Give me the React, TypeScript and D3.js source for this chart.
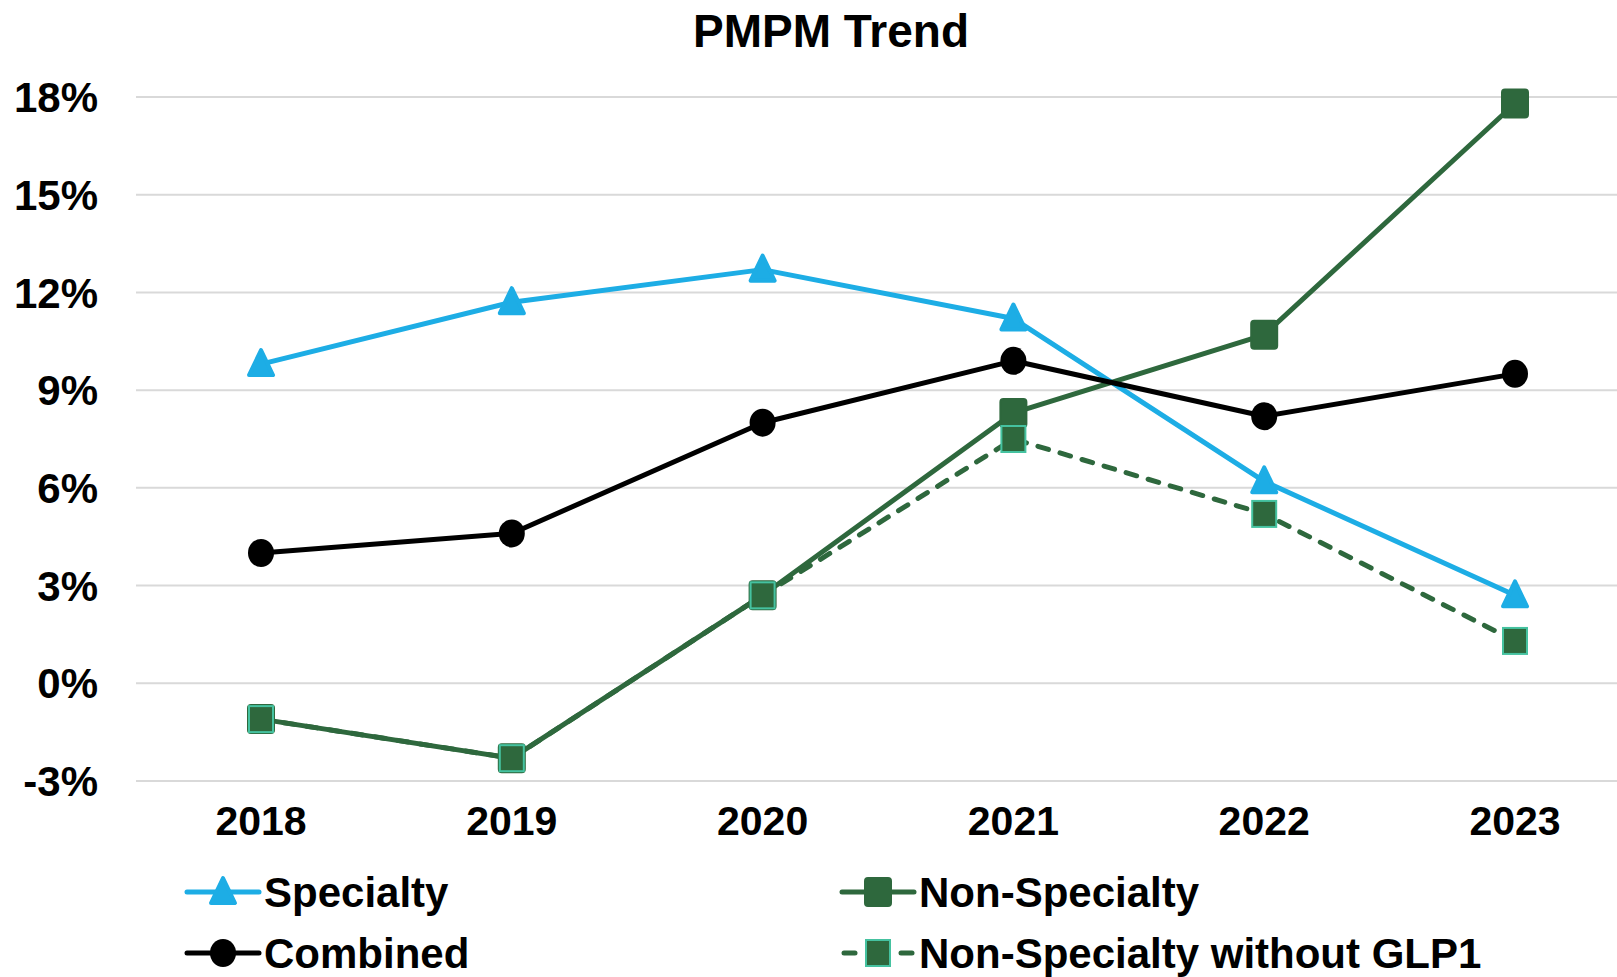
import React from 'react';
import * as d3 from 'd3';

const years = ['2018', '2019', '2020', '2021', '2022', '2023'];
const specialty = [9.8, 11.7, 12.7, 11.2, 6.2, 2.7];
const nonSpecialty = [-1.1, -2.3, 2.7, 8.3, 10.7, 17.8];
const combined = [4.0, 4.6, 8.0, 9.9, 8.2, 9.5];
const nonSpecNoGlp1 = [-1.1, -2.3, 2.7, 7.5, 5.2, 1.3];
const yTicks = [-3, 0, 3, 6, 9, 12, 15, 18];

const W = 1617;
const H = 977;
const FONT = '"Liberation Sans", Arial, sans-serif';
const BLUE = '#1DADE5';
const GREEN = '#2E683D';
const TEAL = '#45C2A0';

const x = d3.scalePoint<string>().domain(years).range([261, 1515]);
const y = d3.scaleLinear().domain([-3, 18]).range([781, 97]);

const line = d3.line<number>()
  .x((d, i) => x(years[i]) as number)
  .y(d => y(d));

type Marker = 'triangle' | 'square' | 'circle';

function MarkerShape({ kind, cx, cy, fill, stroke }: { kind: Marker; cx: number; cy: number; fill: string; stroke?: string }) {
  const s = 24;
  if (kind === 'circle') {
    return <ellipse cx={cx} cy={cy} rx={13} ry={14} fill={fill} />;
  }
  if (kind === 'square') {
    if (stroke) {
      return <rect x={cx - s / 2} y={cy - s / 2 - 1} width={s} height={s + 2} fill={fill} stroke={stroke} strokeWidth={2} />;
    }
    return <rect x={cx - s / 2 - 1} y={cy - s / 2 - 2} width={s + 2} height={s + 4} fill={fill} stroke={fill} strokeWidth={2} strokeLinejoin="round" rx={3} />;
  }
  const h = 24;
  const p = `M${cx},${cy - h / 2 - 2} L${cx + 12},${cy + h / 2 - 1} L${cx - 12},${cy + h / 2 - 1} Z`;
  return <path d={p} fill={fill} stroke={fill} strokeWidth={4} strokeLinejoin="round" />;
}

const series = [
  { name: 'Specialty', values: specialty, color: BLUE, marker: 'triangle' as Marker, dash: undefined as string | undefined, border: undefined as string | undefined },
  { name: 'Non-Specialty', values: nonSpecialty, color: GREEN, marker: 'square' as Marker, dash: undefined, border: undefined },
  { name: 'Combined', values: combined, color: '#000000', marker: 'circle' as Marker, dash: undefined, border: undefined },
  { name: 'Non-Specialty without GLP1', values: nonSpecNoGlp1, color: GREEN, marker: 'square' as Marker, dash: '11,12', border: TEAL },
];

const legendPos = [
  { lx: 187, ly: 892 },
  { lx: 842, ly: 892 },
  { lx: 187, ly: 953 },
  { lx: 842, ly: 953 },
];

export default function App() {
  return (
    <svg width={W} height={H} style={{ position: 'absolute', left: 0, top: 0, background: '#fff' }} fontFamily={FONT}>
      <text x={831} y={47} textAnchor="middle" fontSize={46} fontWeight="bold">PMPM Trend</text>

      {yTicks.map(t => (
        <g key={t}>
          <line x1={136} x2={W} y1={y(t)} y2={y(t)} stroke="#D9D9D9" strokeWidth={2} />
          <text x={98} y={y(t)} dy="0.36em" textAnchor="end" fontSize={42} fontWeight="bold">{`${t}%`}</text>
        </g>
      ))}

      {years.map(yr => (
        <text key={yr} x={x(yr)} y={835} textAnchor="middle" fontSize={41} fontWeight="bold">{yr}</text>
      ))}

      {series.map(s => (
        <g key={s.name}>
          <path d={line(s.values) ?? ''} fill="none" stroke={s.color} strokeWidth={5}
            strokeDasharray={s.dash} strokeLinecap={s.dash ? 'round' : 'butt'} strokeLinejoin="round" />
          {s.values.map((v, i) => (
            <MarkerShape key={i} kind={s.marker} cx={x(years[i]) as number} cy={y(v)} fill={s.color} stroke={s.border} />
          ))}
        </g>
      ))}

      {series.map((s, i) => {
        const p = legendPos[i];
        const mx = p.lx + 36;
        return (
          <g key={s.name}>
            {s.dash ? (
              <>
                <line x1={p.lx + 2} x2={p.lx + 13} y1={p.ly} y2={p.ly} stroke={s.color} strokeWidth={5} strokeLinecap="round" />
                <line x1={p.lx + 59} x2={p.lx + 70} y1={p.ly} y2={p.ly} stroke={s.color} strokeWidth={5} strokeLinecap="round" />
              </>
            ) : (
              <line x1={p.lx} x2={p.lx + 72} y1={p.ly} y2={p.ly} stroke={s.color} strokeWidth={5} strokeLinecap="round" />
            )}
            <MarkerShape kind={s.marker} cx={mx} cy={p.ly} fill={s.color} stroke={s.border} />
            <text x={p.lx + 77} y={p.ly} dy="0.36em" fontSize={42} fontWeight="bold">{s.name}</text>
          </g>
        );
      })}
    </svg>
  );
}
